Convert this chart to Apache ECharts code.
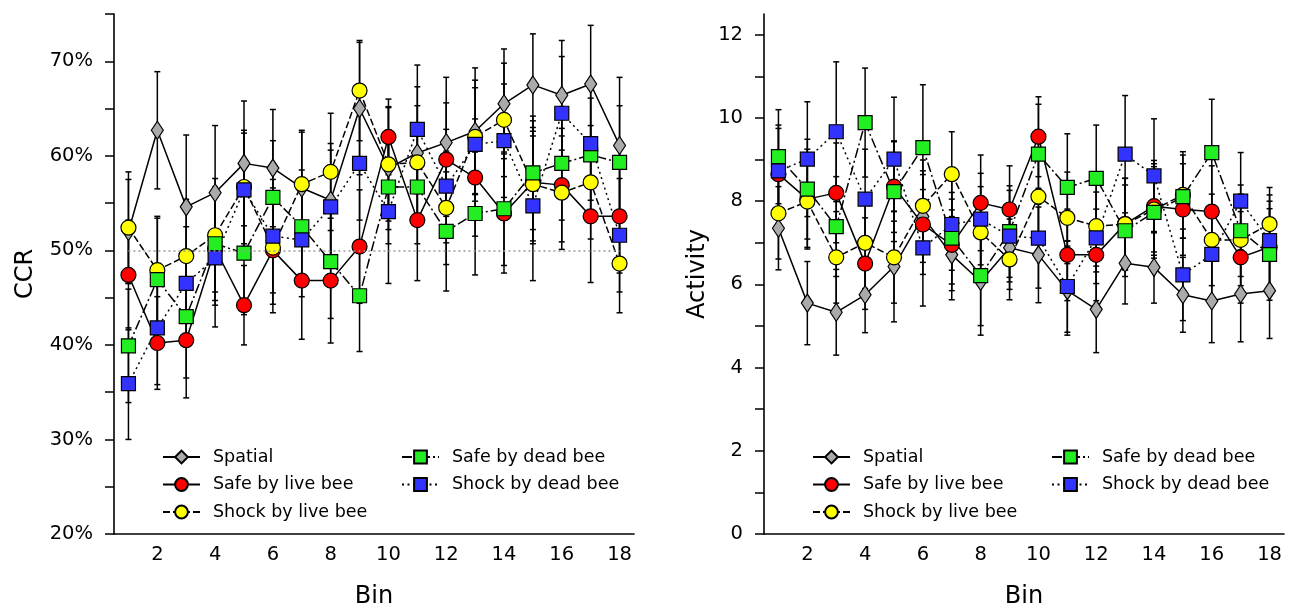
<!DOCTYPE html>
<html>
<head>
<meta charset="utf-8">
<script src="https://cdn.jsdelivr.net/npm/echarts@6/dist/echarts.min.js"></script>
<style>
html,body{margin:0;padding:0;background:#fff;}
#main{width:1297px;height:607px;}
</style>
</head>
<body>
<div id="main"></div>
<script>
// ---------- data ----------
const bins = ['1','2','3','4','5','6','7','8','9','10','11','12','13','14','15','16','17','18'];
const seriesNames = ['Spatial','Safe by live bee','Shock by live bee','Safe by dead bee','Shock by dead bee'];

// CCR (%)
const spatialCCR   = [52.0,62.7,54.6,56.1,59.2,58.7,56.6,55.3,65.0,58.7,60.3,61.4,62.6,65.5,67.5,66.4,67.6,61.1];
const safeLiveCCR  = [47.4,40.2,40.5,50.2,44.2,50.0,46.8,46.8,50.4,62.0,53.2,59.6,57.7,53.9,57.2,56.9,53.6,53.6];
const shockLiveCCR = [52.4,47.9,49.4,51.6,56.7,50.3,57.0,58.3,66.9,59.1,59.3,54.5,62.0,63.8,57.0,56.1,57.2,48.6];
const safeDeadCCR  = [39.9,46.9,43.0,50.7,49.7,55.6,52.5,48.8,45.2,56.7,56.7,52.0,53.9,54.4,58.2,59.2,60.1,59.3];
const shockDeadCCR = [35.9,41.8,46.5,49.2,56.4,51.5,51.1,54.6,59.2,54.1,62.8,56.8,61.2,61.6,54.7,64.5,61.3,51.6];

const spatialCCRErr   = [5.5,6.2,7.6,7.1,6.6,6.2,5.9,6.0,7.0,6.5,7.0,6.9,6.7,5.8,5.4,5.8,6.2,7.2];
const safeLiveCCRErr  = [5.8,4.9,6.1,6.0,4.2,6.6,6.2,6.6,6.0,4.0,6.4,6.0,6.2,6.3,6.5,6.0,7.0,6.0];
const shockLiveCCRErr = [5.9,5.5,6.0,6.0,6.0,6.0,5.7,6.2,5.3,6.0,6.0,6.0,6.0,6.0,6.0,6.0,6.0,5.2];
const safeDeadCCRErr  = [6.0,6.7,6.5,6.0,6.5,6.0,6.0,6.0,5.9,6.0,6.0,6.3,6.5,6.0,6.0,6.0,6.0,6.0];
const shockDeadCCRErr = [5.9,6.0,6.0,7.3,6.0,6.0,6.0,6.0,6.0,7.6,6.8,6.0,6.0,6.0,7.9,6.0,6.0,6.0];
const chanceCCR = 50;

// Activity
const spatialAct   = [7.35,5.55,5.33,5.75,6.43,7.63,6.71,6.07,6.88,6.71,5.85,5.40,6.51,6.41,5.75,5.60,5.77,5.85];
const safeLiveAct  = [8.65,8.05,8.20,6.50,8.35,7.44,6.95,7.96,7.80,9.55,6.71,6.71,7.45,7.88,7.80,7.75,6.65,6.90];
const shockLiveAct = [7.71,7.99,6.65,7.00,6.65,7.89,8.65,7.25,6.60,8.11,7.60,7.40,7.45,7.80,8.15,7.07,7.07,7.45];
const safeDeadAct  = [9.07,8.29,7.39,9.89,8.23,9.29,7.11,6.21,7.27,9.13,8.33,8.55,7.29,7.73,8.11,9.17,7.29,6.72];
const shockDeadAct = [8.73,9.01,9.67,8.05,9.01,6.88,7.44,7.57,7.16,7.11,5.95,7.12,9.13,8.61,6.23,6.72,8.00,7.05];

const spatialActErr   = [1.0,1.0,1.03,0.91,1.33,1.1,1.08,1.29,1.0,1.15,1.07,1.04,0.98,0.86,0.9,1.0,1.15,1.15];
const safeLiveActErr  = [1.1,1.2,1.2,1.1,1.1,1.2,1.1,1.15,1.05,0.96,1.1,1.1,1.1,1.1,1.1,1.1,1.1,1.1];
const shockLiveActErr = [1.1,1.1,1.1,1.1,1.1,1.1,1.02,1.1,0.97,1.1,1.1,1.1,1.1,1.1,1.04,1.1,1.1,0.88];
const safeDeadActErr  = [1.13,1.2,1.2,1.31,1.2,1.51,1.1,1.2,1.1,1.2,1.29,1.28,1.1,1.1,1.0,1.28,1.1,1.1];
const shockDeadActErr = [1.1,1.38,1.68,1.2,1.49,1.4,1.1,1.1,1.1,1.2,1.1,1.1,1.41,1.37,1.1,1.1,1.17,1.1];

// ---------- styles ----------
const FONT = 'DejaVu Sans';
const styles = [
  {symbol:'diamond', size:[12,18], fill:'#aaaaaa', dash:'solid'},
  {symbol:'circle',  size:15, fill:'#ff0000', dash:'solid'},
  {symbol:'circle',  size:15, fill:'#ffff00', dash:[7,3]},
  {symbol:'rect',    size:14, fill:'#22ee22', dash:[10,3,2,3]},
  {symbol:'rect',    size:14, fill:'#3333ff', dash:[2,3.5]}
];

const ccrValues = [spatialCCR, safeLiveCCR, shockLiveCCR, safeDeadCCR, shockDeadCCR];
const ccrErrors = [spatialCCRErr, safeLiveCCRErr, shockLiveCCRErr, safeDeadCCRErr, shockDeadCCRErr];
const actValues = [spatialAct, safeLiveAct, shockLiveAct, safeDeadAct, shockDeadAct];
const actErrors = [spatialActErr, safeLiveActErr, shockLiveActErr, safeDeadActErr, shockDeadActErr];

function errRender(params, api){
  const x = api.value(0), y = api.value(1), e = api.value(2);
  const t = api.coord([x, y + e]);
  const b = api.coord([x, y - e]);
  const cw = 3;
  const st = {stroke:'#000', lineWidth:1.5};
  return {type:'group', children:[
    {type:'line', shape:{x1:t[0], y1:t[1], x2:b[0], y2:b[1]}, style:st},
    {type:'line', shape:{x1:t[0]-cw, y1:t[1], x2:t[0]+cw, y2:t[1]}, style:st},
    {type:'line', shape:{x1:b[0]-cw, y1:b[1], x2:b[0]+cw, y2:b[1]}, style:st}
  ]};
}

const series = [];
function addChart(idx, values, errors){
  values.forEach((vals, s) => {
    const st = styles[s];
    series.push({
      type:'line', name: seriesNames[s], xAxisIndex: idx, yAxisIndex: idx,
      data: vals, z: 2,
      symbol: st.symbol, symbolSize: st.size, showSymbol: true, showAllSymbol: true,
      lineStyle:{color:'#000', width:1.5, type: st.dash},
      itemStyle:{color: st.fill, borderColor:'#000', borderWidth:1.2},
      emphasis:{disabled:true}
    });
  });
  values.forEach((vals, s) => {
    series.push({
      type:'custom', name: seriesNames[s] + ' (error)', xAxisIndex: idx, yAxisIndex: idx,
      renderItem: errRender, z: 1, silent: true,
      encode:{x:0, y:1},
      data: vals.map((v, i) => [i, v, errors[s][i]])
    });
  });
}

// chance line on CCR chart
series.push({
  type:'line', name:'chance', xAxisIndex:0, yAxisIndex:0, z:0, silent:true,
  data:[], markLine:{
    silent:true, symbol:['none','none'], label:{show:false},
    lineStyle:{color:'#999', type:[2,3], width:1.5},
    data:[[{coord:[bins[0], chanceCCR]}, {coord:[bins[bins.length-1], chanceCCR]}]]
  }
});
addChart(0, ccrValues, ccrErrors);
addChart(1, actValues, actErrors);

function xAxis(gi){
  return {
    type:'category', gridIndex: gi, data: bins, boundaryGap:true,
    name:'Bin', nameLocation:'middle', nameGap:51,
    nameTextStyle:{fontFamily:FONT, fontSize:24, color:'#000'},
    axisLine:{lineStyle:{color:'#000', width:1.6}},
    axisTick:{alignWithLabel:true, interval:0, length:8, lineStyle:{color:'#000', width:1.5}},
    axisLabel:{interval:0, margin:11, fontFamily:FONT, fontSize:19.5, color:'#000',
      formatter:(v, i) => ((i+1) % 2 === 0 ? v : '')},
    splitLine:{show:false}
  };
}

const legendBase = {
  orient:'vertical', itemWidth:37, itemHeight:16, itemGap:9.5, padding:0, selectedMode:false,
  textStyle:{fontFamily:FONT, fontSize:17.5, color:'#000', padding:[0,0,0,8]}
};

const option = {
  animation:false,
  backgroundColor:'#fff',
  grid:[
    {left:114, top:14, width:520, height:520, containLabel:false, outerBoundsMode:'none'},
    {left:764, top:14, width:520, height:520, containLabel:false, outerBoundsMode:'none'}
  ],
  xAxis:[xAxis(0), xAxis(1)],
  yAxis:[
    {type:'value', gridIndex:0, min:20, max:75, interval:5,
     name:'CCR', nameLocation:'middle', nameGap:76, nameRotate:90,
     nameTextStyle:{fontFamily:FONT, fontSize:24, color:'#000'},
     axisLine:{show:true, lineStyle:{color:'#000', width:1.6}},
     axisTick:{show:true, length:9, lineStyle:{color:'#000', width:1.5}},
     axisLabel:{margin:21, fontFamily:FONT, fontSize:19.5, color:'#000',
       formatter:v => (v % 10 === 0 ? v + '%' : '')},
     splitLine:{show:false}},
    {type:'value', gridIndex:1, min:0, max:12.5, interval:1,
     name:'Activity', nameLocation:'middle', nameGap:54, nameRotate:90,
     nameTextStyle:{fontFamily:FONT, fontSize:24, color:'#000'},
     axisLine:{show:true, lineStyle:{color:'#000', width:1.6}},
     axisTick:{show:true, length:9, lineStyle:{color:'#000', width:1.5}},
     axisLabel:{margin:21, fontFamily:FONT, fontSize:19.5, color:'#000', showMaxLabel:false,
       formatter:v => (v % 2 === 0 ? String(v) : '')},
     splitLine:{show:false}}
  ],
  legend:[
    Object.assign({}, legendBase, {left:162, top:448, data:seriesNames.slice(0,3)}),
    Object.assign({}, legendBase, {left:401, top:448, data:seriesNames.slice(3)}),
    Object.assign({}, legendBase, {left:812, top:448, data:seriesNames.slice(0,3)}),
    Object.assign({}, legendBase, {left:1051, top:448, data:seriesNames.slice(3)})
  ],
  series: series
};

const chart = echarts.init(document.getElementById('main'), null, {renderer:'canvas'});
chart.setOption(option);
</script>
</body>
</html>
